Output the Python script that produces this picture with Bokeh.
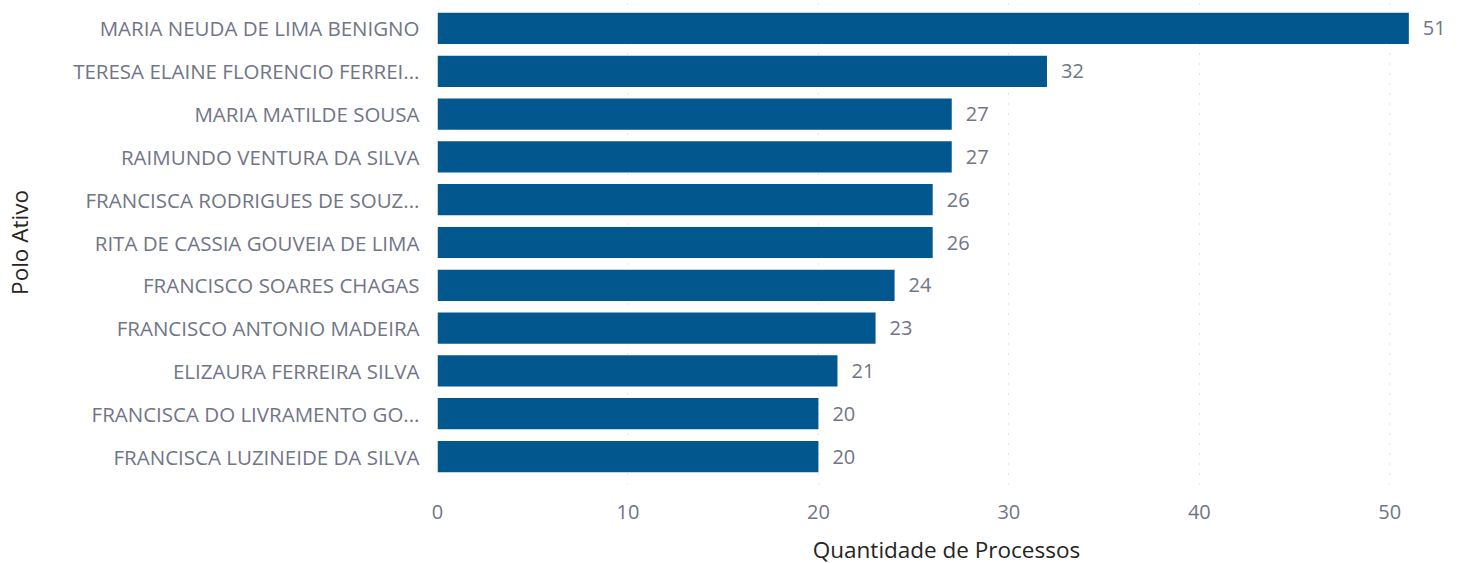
import math
from bokeh.plotting import figure
from bokeh.models import ColumnDataSource, FixedTicker, FactorRange
from bokeh.core.properties import value
from bokeh.embed import file_html
from bokeh.resources import INLINE

names = [
    "MARIA NEUDA DE LIMA BENIGNO",
    "TERESA ELAINE FLORENCIO FERREI...",
    "MARIA MATILDE SOUSA",
    "RAIMUNDO VENTURA DA SILVA",
    "FRANCISCA RODRIGUES DE SOUZ...",
    "RITA DE CASSIA GOUVEIA DE LIMA",
    "FRANCISCO SOARES CHAGAS",
    "FRANCISCO ANTONIO MADEIRA",
    "ELIZAURA FERREIRA SILVA",
    "FRANCISCA DO LIVRAMENTO GO...",
    "FRANCISCA LUZINEIDE DA SILVA",
]
counts = [51, 32, 27, 27, 26, 26, 24, 23, 21, 20, 20]
x_ticks = [0, 10, 20, 30, 40, 50]

FONT = "Open Sans"
BAR = "#02578F"
GRAY = "#707588"
DARK = "#252423"

src = ColumnDataSource(dict(name=names, count=counts, label=[str(c) for c in counts]))

p = figure(
    frame_width=1018, frame_height=484,
    y_range=FactorRange(factors=list(reversed(names)), range_padding=0.028),
    x_range=(0, 53.45),
    output_backend="svg", toolbar_location=None,
    min_border_left=437, min_border_right=3, min_border_top=0, min_border_bottom=79,
)
p.outline_line_color = None
p.background_fill_color = "white"
p.border_fill_color = "white"

p.hbar(y="name", right="count", height=0.73, source=src, color=BAR, line_color=None)
p.text(x="count", y="name", text="label", source=src, x_offset=14,
       text_baseline="middle", text_align="left", text_color=GRAY,
       text_font=value(FONT), text_font_size="20px")

p.ygrid.grid_line_color = None
p.xgrid.grid_line_color = "#c8c8c8"
p.xgrid.grid_line_dash = "1 9"
p.xgrid.grid_line_width = 1
p.xaxis.ticker = FixedTicker(ticks=x_ticks)

for ax in (p.xaxis, p.yaxis):
    ax.axis_line_color = None
    ax.major_tick_line_color = None
    ax.minor_tick_line_color = None
    ax.major_label_text_color = GRAY
    ax.major_label_text_font = FONT
    ax.axis_label_text_font = FONT
    ax.axis_label_text_font_style = "normal"
    ax.axis_label_text_font_size = "22.5px"
    ax.axis_label_text_color = DARK

p.yaxis.major_label_text_font_size = "20.5px"
p.xaxis.major_label_text_font_size = "20px"
p.yaxis.major_label_standoff = 12
p.xaxis.major_label_standoff = 14
p.xaxis.axis_label = "Quantidade de Processos"
p.xaxis.axis_label_standoff = 12
p.yaxis.axis_label = "Polo Ativo"
p.yaxis.axis_label_standoff = 35

open("out.html", "w").write(file_html(p, INLINE))
